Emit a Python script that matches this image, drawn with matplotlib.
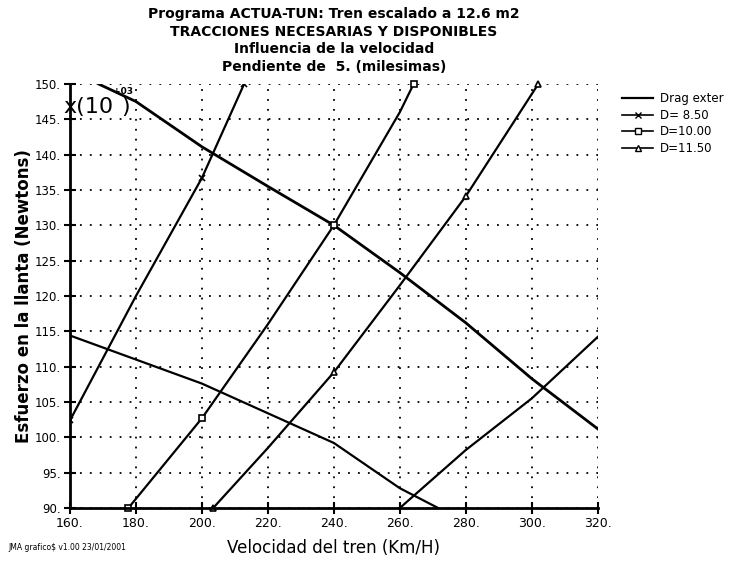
import matplotlib
matplotlib.use("Agg")
import matplotlib.pyplot as plt
from matplotlib.lines import Line2D

plt.rcParams['font.family'] = ['DejaVu Sans']

# ---- data ----
x_ticks = [160, 180, 200, 220, 240, 260, 280, 300, 320]
x_tick_labels = ["160.", "180.", "200.", "220.", "240.", "260.", "280.", "300.", "320."]
y_ticks = [90, 95, 100, 105, 110, 115, 120, 125, 130, 135, 140, 145, 150]
y_tick_labels = ["90.", "95.", "100.", "105.", "110.", "115.", "120.", "125.", "130.",
                 "135.", "140.", "145.", "150."]

drag_x = [160, 168.6, 180, 200, 220, 240, 260, 280, 300, 320]
drag_y = [152.6, 150.0, 147.5, 141.1, 135.5, 130.0, 123.3, 116.2, 108.3, 101.2]

lower_x = [160, 180, 200, 220, 240, 260, 271.6]
lower_y = [114.4, 111.0, 107.6, 103.4, 99.2, 92.8, 90.0]

rise_x = [260, 280, 300, 320]
rise_y = [90.0, 98.2, 105.5, 114.2]

d850_x = [160, 180, 200, 212.8]
d850_y = [102.4, 120.0, 136.7, 150.0]
d850_marks = [0, 2, 3]

d1000_x = [177.7, 200, 220, 240, 260, 264.2]
d1000_y = [90.0, 102.7, 116.0, 130.0, 146.0, 150.0]
d1000_marks = [0, 1, 3, 5]

d1150_x = [203.4, 220, 240, 260, 280, 302.0]
d1150_y = [90.0, 98.5, 109.2, 121.5, 134.1, 150.0]
d1150_marks = [0, 2, 4, 5]

titles = ["Programa ACTUA-TUN: Tren escalado a 12.6 m2",
          "TRACCIONES NECESARIAS Y DISPONIBLES",
          "Influencia de la velocidad",
          "Pendiente de  5. (milesimas)"]
legend_labels = ["Drag exter", "D= 8.50", "D=10.00", "D=11.50"]

# ---- figure ----
fig = plt.figure(figsize=(7.37, 5.63), dpi=100)
ax = fig.add_axes([0.095, 0.0977, 0.716, 0.7533])

ax.set_xlim(160, 320)
ax.set_ylim(90, 150)
ax.set_xticks(x_ticks)
ax.set_xticklabels(x_tick_labels, fontsize=9)
ax.set_yticks(y_ticks)
ax.set_yticklabels(y_tick_labels, fontsize=8.5)
ax.tick_params(direction='inout', length=9, width=1.5, pad=2)

for s in ['top', 'right']:
    ax.spines[s].set_visible(False)
for s in ['left', 'bottom']:
    ax.spines[s].set_linewidth(2)

ax.grid(True, color='black', linestyle=(0, (1, 4.5)), linewidth=1.3)
ax.set_axisbelow(True)

lw = 1.6
ax.plot(drag_x, drag_y, color='black', lw=2.0)
ax.plot(lower_x, lower_y, color='black', lw=lw)
ax.plot(rise_x, rise_y, color='black', lw=lw)
ax.plot(d850_x, d850_y, color='black', lw=lw, marker='x', markersize=5,
        markevery=d850_marks, mew=1.2)
ax.plot(d1000_x, d1000_y, color='black', lw=lw, marker='s', markersize=5,
        markevery=d1000_marks, mfc='white', mew=1.2, clip_on=False)
ax.plot(d1150_x, d1150_y, color='black', lw=lw, marker='^', markersize=5,
        markevery=d1150_marks, mfc='white', mew=1.2, clip_on=False)

# scale multiplier
ax.text(-0.013, 0.945, "x(10", transform=ax.transAxes, fontsize=16, ha='left',
        va='center', clip_on=False)
ax.text(0.081, 0.982, "+03", transform=ax.transAxes, fontsize=6.5, ha='left',
        va='center', weight='bold')
ax.text(0.097, 0.945, ")", transform=ax.transAxes, fontsize=16, ha='left',
        va='center')

ax.set_xlabel("Velocidad del tren (Km/H)", fontsize=12)
ax.xaxis.set_label_coords(0.5, -0.073)
ax.set_ylabel("Esfuerzo en la llanta (Newtons)", fontsize=12, weight='bold')
ax.yaxis.set_label_coords(-0.07, 0.5)

# titles
ty = [0.975, 0.944, 0.913, 0.881]
for t, y in zip(titles, ty):
    fig.text(0.453, y, t, ha='center', va='center', fontsize=10, weight='bold')

# footnote
fig.text(0.011, 0.028, "JMA grafico$ v1.00 23/01/2001", fontsize=5.5,
         ha='left', va='center')

# legend
handles = [
    Line2D([], [], color='black', lw=1.6),
    Line2D([], [], color='black', lw=1.2, marker='x', markersize=4),
    Line2D([], [], color='black', lw=1.2, marker='s', markersize=4, mfc='white'),
    Line2D([], [], color='black', lw=1.2, marker='^', markersize=4, mfc='white'),
]
fig.legend(handles, legend_labels, loc='upper left', bbox_to_anchor=(0.83, 0.855),
           frameon=False, fontsize=8.5, handlelength=2.6, numpoints=1,
           labelspacing=0.3, handletextpad=0.6)

fig.savefig("out.png", dpi=100)
